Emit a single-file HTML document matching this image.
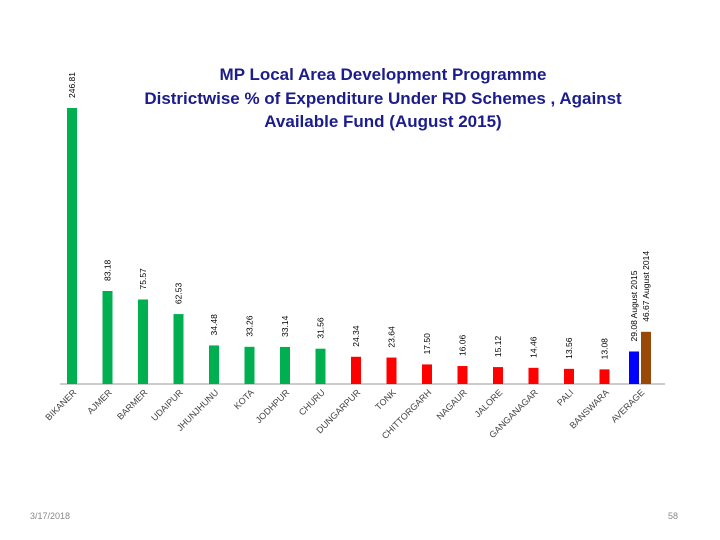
<!DOCTYPE html>
<html><head><meta charset="utf-8"><style>
body{margin:0;background:#fff;}
svg{display:block;font-family:"Liberation Sans",sans-serif;}
</style></head><body>
<svg id="chart" width="720" height="540">
<g font-weight="bold" font-size="17" fill="#1c1c8c" text-anchor="middle">
<text x="383" y="80">MP Local Area Development Programme</text>
<text x="383" y="104">Districtwise % of Expenditure Under RD Schemes , Against</text>
<text x="383" y="127">Available Fund (August 2015)</text>
</g>
<line x1="60" y1="384" x2="665" y2="384" stroke="#999" stroke-width="1"/>
<g id="bars"></g>
<text x="30" y="519" font-size="9" fill="#888">3/17/2018</text>
<text x="678" y="519" font-size="9" fill="#888" text-anchor="end">58</text>
</svg>
<script>
const categories=["BIKANER","AJMER","BARMER","UDAIPUR","JHUNJHUNU","KOTA","JODHPUR","CHURU","DUNGARPUR","TONK","CHITTORGARH","NAGAUR","JALORE","GANGANAGAR","PALI","BANSWARA","AVERAGE"];
const values=[246.81,83.18,75.57,62.53,34.48,33.26,33.14,31.56,24.34,23.64,17.50,16.06,15.12,14.46,13.56,13.08,29.08];
const valueLabels=["246.81","83.18","75.57","62.53","34.48","33.26","33.14","31.56","24.34","23.64","17.50","16.06","15.12","14.46","13.56","13.08","29.08 August 2015"];
const prevAverage=[46.67];
const prevAverageLabel=["46.67 August 2014"];
const colors=["#00b050","#00b050","#00b050","#00b050","#00b050","#00b050","#00b050","#00b050","#ff0000","#ff0000","#ff0000","#ff0000","#ff0000","#ff0000","#ff0000","#ff0000","#0000ff"];
const NS="http://www.w3.org/2000/svg";
const base=384, scale=276/246.81, x0=72, step=35.5, bw=10;
const xs=i=>x0+i*step, ys=v=>base-v*scale;
const g=document.getElementById('bars');
function bar(cx,v,col,lab){
  const r=document.createElementNS(NS,'rect');
  r.setAttribute('x',cx-bw/2);r.setAttribute('y',ys(v));r.setAttribute('width',bw);r.setAttribute('height',base-ys(v));r.setAttribute('fill',col);
  
  
  g.appendChild(r);
  const t=document.createElementNS(NS,'text');
  const ty=ys(v)-10;
  t.setAttribute('x',cx+3);t.setAttribute('y',ty);t.setAttribute('font-size','8.5');t.setAttribute('fill','#000');
  t.setAttribute('transform','rotate(-90 '+(cx+3)+' '+ty+')');
  t.textContent=lab;
  
  
  g.appendChild(t);
}
categories.forEach((c,i)=>{
  const cx= i===16 ? xs(i)-6 : xs(i);
  bar(cx,values[i],colors[i],valueLabels[i]);
  const t=document.createElementNS(NS,'text');
  const lx=xs(i)+5, ly=393;
  t.setAttribute('x',lx);t.setAttribute('y',ly);t.setAttribute('font-size','9');t.setAttribute('fill','#444');t.setAttribute('text-anchor','end');
  t.setAttribute('transform','rotate(-45 '+lx+' '+ly+')');
  t.textContent=c;
  
  
  g.appendChild(t);
});
bar(xs(16)+6,prevAverage[0],"#984807",prevAverageLabel[0]);
</script>
</body></html>
